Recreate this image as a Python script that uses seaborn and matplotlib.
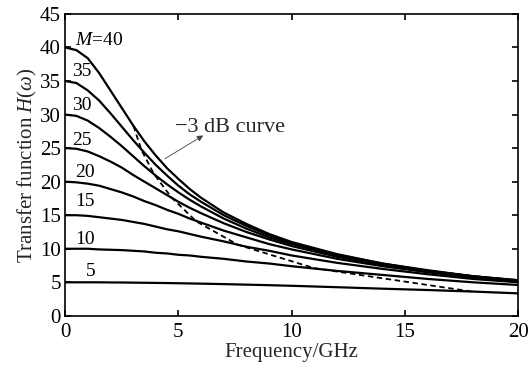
import matplotlib
matplotlib.use("Agg")
import matplotlib.pyplot as plt
import seaborn as sns
import pandas as pd

# ---------------- Data ----------------
freq = [0, 0.5, 1, 1.5, 2, 2.5, 3, 3.5, 4, 4.5, 5, 5.5, 6,
        7, 8, 9, 10, 12, 14, 16, 18, 20]

h_m40 = [40.0, 39.6, 38.4, 36.2, 33.6, 31.0, 28.4, 26.0, 23.9, 22.0, 20.4, 18.9, 17.6,
         15.4, 13.7, 12.2, 11.0, 9.2, 7.8, 6.8, 5.9, 5.3]
h_m35 = [35.0, 34.7, 33.6, 32.1, 30.2, 28.2, 26.2, 24.3, 22.5, 20.9, 19.4, 18.1, 17.0,
         15.0, 13.4, 12.0, 10.9, 9.1, 7.8, 6.7, 5.9, 5.3]
h_m30 = [30.0, 29.8, 29.1, 28.0, 26.7, 25.3, 23.8, 22.3, 20.9, 19.6, 18.4, 17.3, 16.3,
         14.5, 13.0, 11.7, 10.7, 9.0, 7.7, 6.7, 5.9, 5.2]
h_m25 = [25.0, 24.9, 24.5, 23.8, 23.0, 22.1, 21.0, 20.0, 19.0, 18.0, 17.0, 16.1, 15.3,
         13.8, 12.5, 11.4, 10.4, 8.8, 7.6, 6.6, 5.8, 5.2]
h_m20 = [20.0, 19.9, 19.7, 19.4, 18.9, 18.4, 17.8, 17.1, 16.5, 15.8, 15.2, 14.5, 13.9,
         12.7, 11.7, 10.7, 9.9, 8.5, 7.4, 6.5, 5.7, 5.1]
h_m15 = [15.0, 15.0, 14.9, 14.7, 14.5, 14.3, 14.0, 13.7, 13.3, 12.9, 12.6, 12.2, 11.8,
         11.1, 10.3, 9.7, 9.0, 7.9, 7.0, 6.2, 5.5, 5.0]
h_m10 = [10.0, 10.0, 10.0, 9.9, 9.85, 9.8, 9.7, 9.6, 9.4, 9.3, 9.1, 9.0, 8.8,
         8.5, 8.1, 7.8, 7.4, 6.7, 6.1, 5.5, 5.0, 4.6]
h_m5 = [5.0, 5.0, 5.0, 5.0, 4.98, 4.97, 4.95, 4.93, 4.91, 4.89, 4.86, 4.83, 4.80,
        4.73, 4.65, 4.57, 4.48, 4.27, 4.05, 3.85, 3.62, 3.35]

gains = [40, 35, 30, 25, 20, 15, 10, 5]
curves = [h_m40, h_m35, h_m30, h_m25, h_m20, h_m15, h_m10, h_m5]

# -3 dB points of each curve
f_3db = [3.02, 3.37, 3.91, 4.68, 5.78, 7.62, 11.0, 18.0]
h_3db = [28.3, 24.7, 21.2, 17.7, 14.1, 10.6, 7.1, 3.6]

labels = ["$M$=40", "35", "30", "25", "20", "15", "10", "5"]
label_f = [0.45, 0.3, 0.3, 0.3, 0.45, 0.45, 0.45, 0.9]
label_h = [41.1, 36.4, 31.3, 26.2, 21.3, 17.0, 11.4, 6.6]

# ---------------- Style ----------------
sns.set_theme(style="ticks")
plt.rcParams["font.family"] = ["Liberation Serif", "DejaVu Serif"]
plt.rcParams["mathtext.fontset"] = "custom"
plt.rcParams["mathtext.rm"] = "Liberation Serif"
plt.rcParams["mathtext.it"] = "Liberation Serif:italic"

df = pd.DataFrame({
    "f": freq * len(gains),
    "H": [v for c in curves for v in c],
    "M": [m for m in gains for _ in freq],
})
df3 = pd.DataFrame({"f": f_3db, "H": h_3db})

fig, ax = plt.subplots(figsize=(5.29, 3.66), dpi=100)
fig.subplots_adjust(left=0.123, right=0.980, top=0.962, bottom=0.137)

sns.lineplot(data=df, x="f", y="H", units="M", estimator=None,
             color="black", lw=1.6, ax=ax)
sns.lineplot(data=df3, x="f", y="H", color="black", lw=1.3,
             linestyle=(0, (3, 2)), ax=ax)

for txt, fx, hy in zip(labels, label_f, label_h):
    ax.text(fx, hy, txt, fontsize=14, ha="left", va="center", color="black")

ax.annotate("", xy=(6.2, 27.1), xytext=(4.3, 23.2),
            arrowprops=dict(arrowstyle="-|>", lw=0.6, color="0.25",
                            mutation_scale=9))
ax.text(4.85, 28.0, "\u22123 dB curve", fontsize=16, ha="left", va="center")

ax.set_xlim(0, 20)
ax.set_ylim(0, 45)
ax.set_xticks([0, 5, 10, 15, 20])
ax.set_yticks(range(0, 50, 5))
ax.tick_params(direction="in", length=4, width=1.2, top=True, right=True,
               labelsize=15, colors="black")
ax.tick_params(axis="x", pad=5)
ax.tick_params(axis="y", pad=3)
for s in ax.spines.values():
    s.set_linewidth(1.2)
    s.set_color("black")

ax.set_xlabel("Frequency/GHz", fontsize=15, labelpad=1)
ax.set_ylabel("Transfer function $H$($\\omega$)", fontsize=15, labelpad=1)

plt.savefig("out.png", dpi=100)
